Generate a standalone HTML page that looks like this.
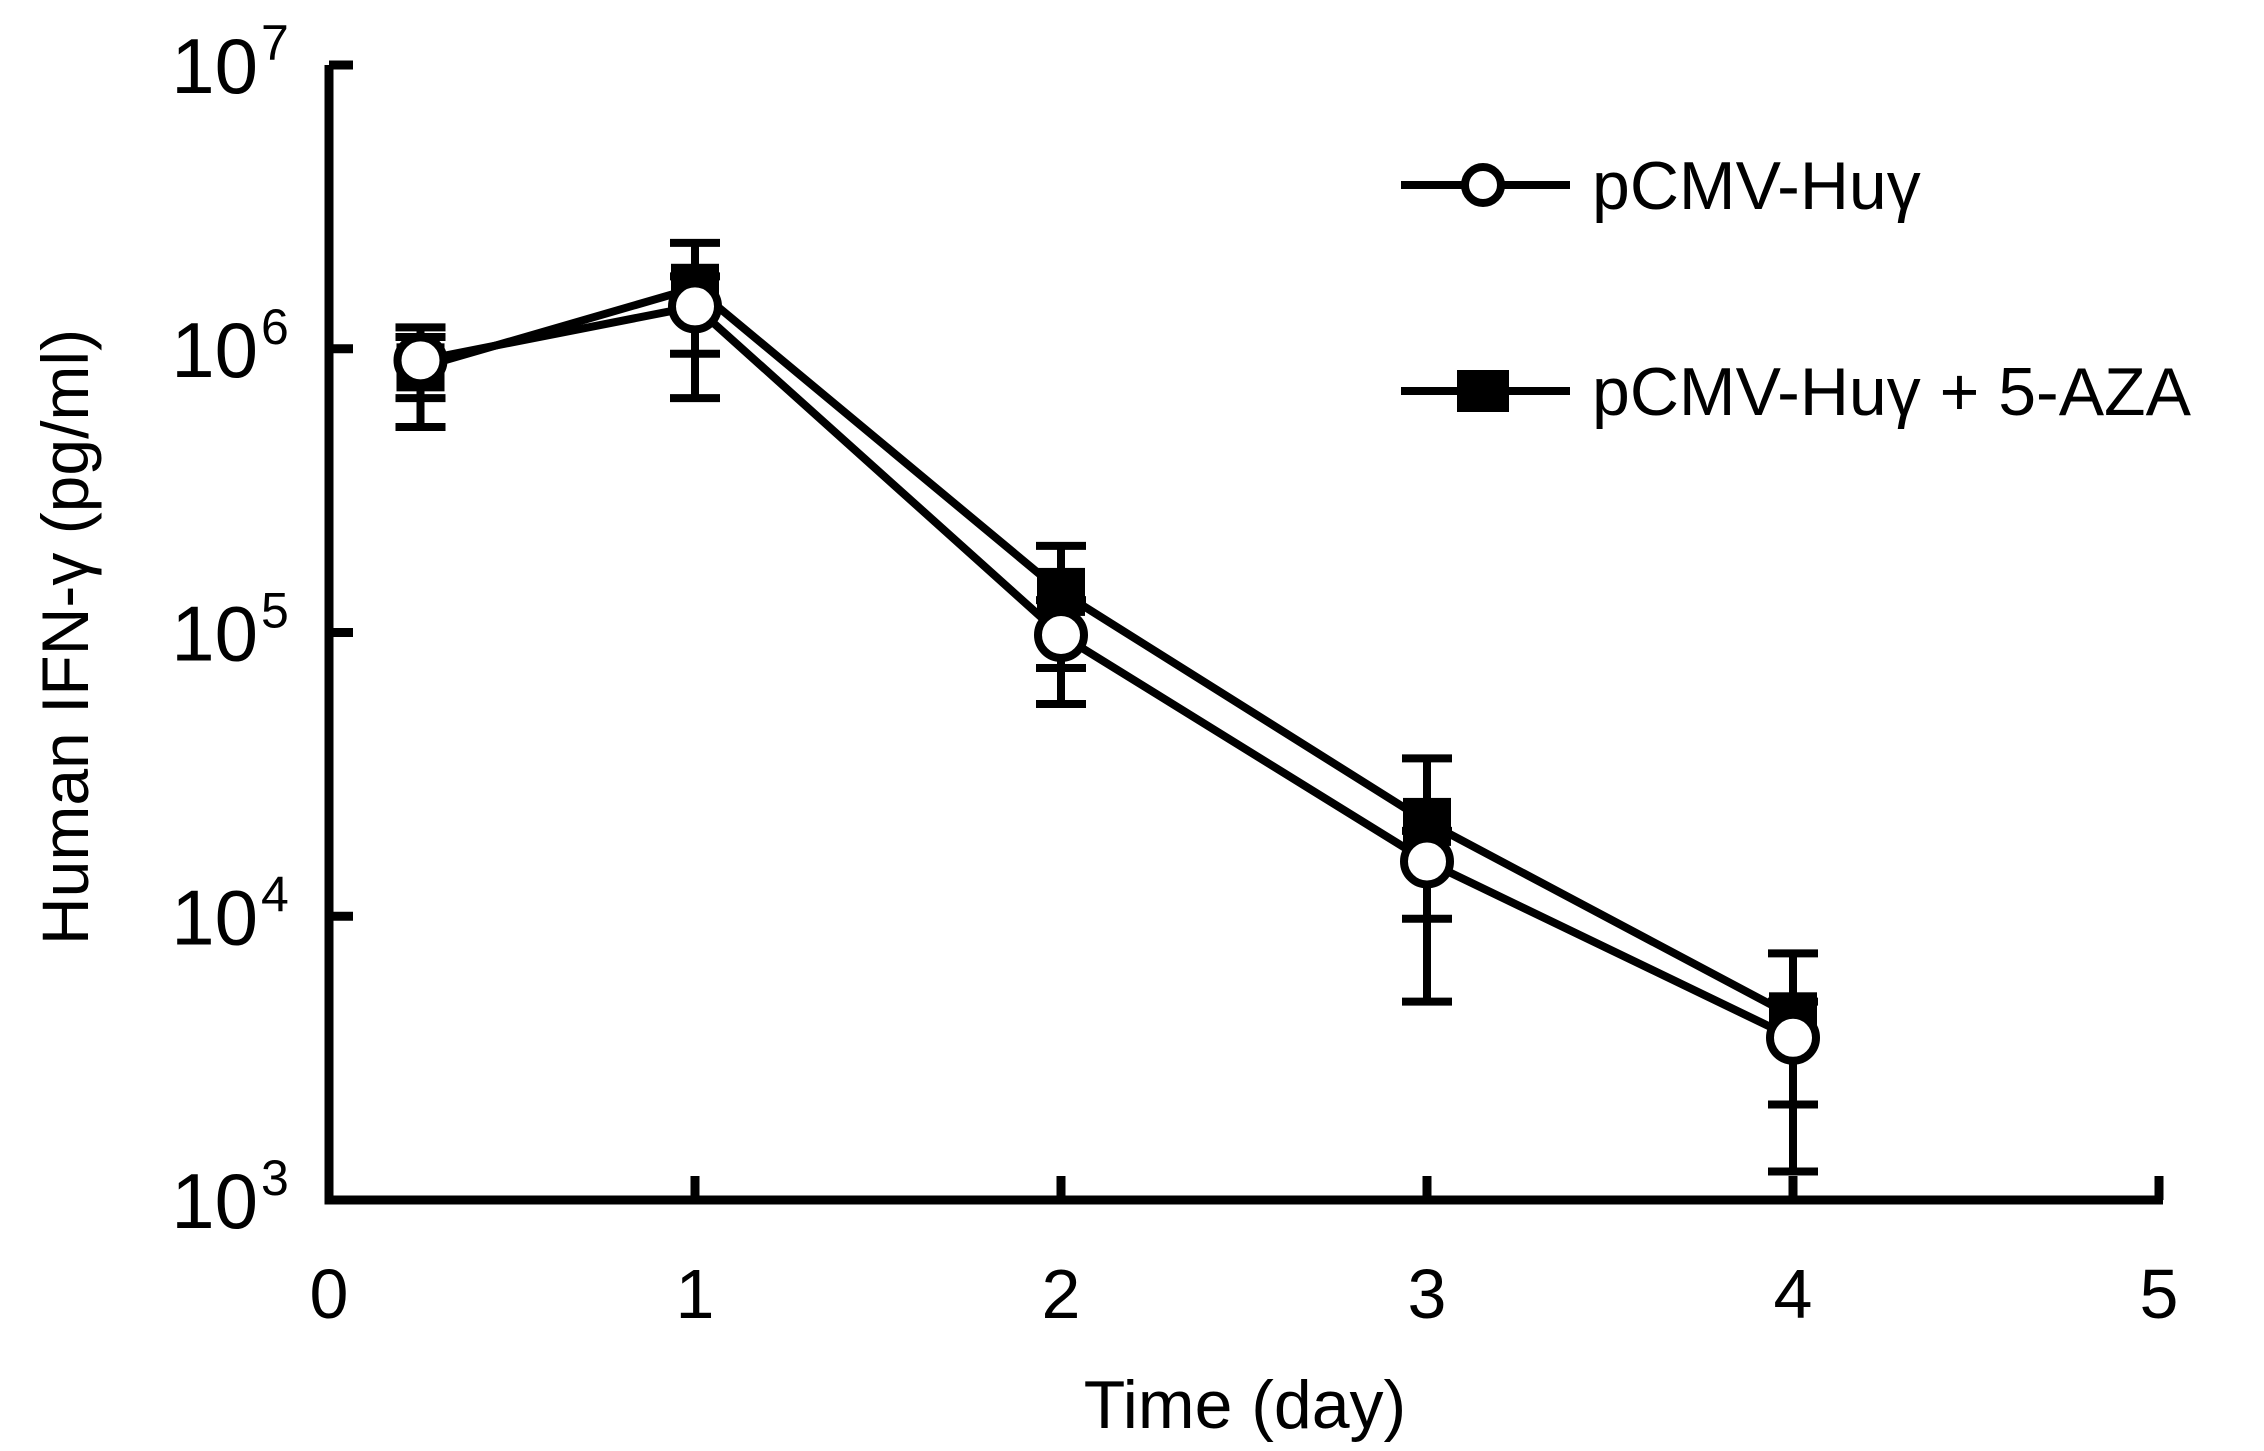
<!DOCTYPE html>
<html><head><meta charset="utf-8"><style>
html,body{margin:0;padding:0;background:#fff;}
svg text{font-family:"Liberation Sans",Arial,sans-serif;fill:#000;}
</style></head><body>
<svg id="chart" width="2264" height="1446" viewBox="0 0 2264 1446" xmlns="http://www.w3.org/2000/svg">
<g id="axes"></g>
<g id="series"></g>
<g id="legend"></g>
</svg>
<script>
const days = [0.25, 1, 2, 3, 4];
const circleValues = [0.91e6, 1.41e6, 0.98e5, 1.56e4, 3.73e3];
const circleUpper = [1.1e6, 1.8e6, 1.3e5, 2.0e4, 5.0e3];
const circleLower = [0.67e6, 0.96e6, 0.75e5, 0.98e4, 2.17e3];
const squareValues = [0.86e6, 1.64e6, 1.39e5, 2.15e4, 4.44e3];
const squareUpper = [1.19e6, 2.36e6, 2.02e5, 3.6e4, 7.4e3];
const squareLower = [0.53e6, 0.67e6, 0.56e5, 0.5e4, 1.26e3];
const xTicks = [0, 1, 2, 3, 4, 5];
const yTickExps = [3, 4, 5, 6, 7];
const seriesNames = ["pCMV-Hu\u03b3", "pCMV-Hu\u03b3 + 5-AZA"];

const NS = "http://www.w3.org/2000/svg";
const X0 = 329, X1 = 2159, Y3 = 1200, Y7 = 65;
function xs(d){ return X0 + (d - 0) / 5 * (X1 - X0); }
function ys(v){ return Y3 - (Math.log10(v) - 3) / 4 * (Y3 - Y7); }
function mk(tag, attrs, parent){
  const e = document.createElementNS(NS, tag);
  for (const k in attrs) e.setAttribute(k, attrs[k]);
  parent.appendChild(e);
  return e;
}
const axes = document.getElementById('axes');
const series = document.getElementById('series');
const legend = document.getElementById('legend');

let yl = mk('line', {x1: X0, y1: Y7, x2: X0, y2: Y3 + 4.5, stroke: '#000', 'stroke-width': 9}, axes);


let xl = mk('line', {x1: X0 - 4.5, y1: Y3, x2: X1 + 4, y2: Y3, stroke: '#000', 'stroke-width': 9}, axes);



yTickExps.forEach(function(ex){
  const y = ys(Math.pow(10, ex));
  const t = mk('line', {x1: X0, y1: y, x2: X0 + 24, y2: y, stroke: '#000', 'stroke-width': 9}, axes);
  
  
  const tx = mk('text', {x: 258, y: y + 28, 'font-size': 78, 'text-anchor': 'end'}, axes);
  tx.textContent = '10';
  
  
  const sp = mk('text', {x: 261, y: y - 5, 'font-size': 50}, axes);
  sp.textContent = String(ex);
  
  
});
xTicks.forEach(function(d){
  const x = xs(d);
  if (d > 0) {
    const t = mk('line', {x1: x, y1: Y3, x2: x, y2: Y3 - 24, stroke: '#000', 'stroke-width': 9}, axes);
    
    
  }
  const tx = mk('text', {x: x, y: 1318, 'font-size': 70, 'text-anchor': 'middle'}, axes);
  tx.textContent = String(d);
  
  
});
const xt = mk('text', {x: 1245, y: 1428, 'font-size': 68, 'text-anchor': 'middle'}, axes);
xt.textContent = 'Time (day)';


const yt = mk('text', {x: 0, y: 0, 'font-size': 66, 'text-anchor': 'middle', transform: 'translate(88,637) rotate(-90)'}, axes);
yt.textContent = 'Human IFN-\u03b3 (pg/ml)';



function errBars(vals, up, lo, name){
  days.forEach(function(d, i){
    const x = xs(d);
    const e = mk('path', {d: 'M' + x + ' ' + ys(up[i]) + 'V' + ys(lo[i]) +
      'M' + (x - 25) + ' ' + ys(up[i]) + 'H' + (x + 25) +
      'M' + (x - 25) + ' ' + ys(lo[i]) + 'H' + (x + 25),
      stroke: '#000', 'stroke-width': 8, fill: 'none'}, series);
    
    
  });
}
function linePath(vals){
  return days.map(function(d, i){ return (i ? 'L' : 'M') + xs(d) + ' ' + ys(vals[i]); }).join('');
}
errBars(squareValues, squareUpper, squareLower, 'aza');
errBars(circleValues, circleUpper, circleLower, 'control');
const sl = mk('path', {d: linePath(squareValues), stroke: '#000', 'stroke-width': 8, fill: 'none'}, series);


days.forEach(function(d, i){
  const s = mk('rect', {x: xs(d) - 24, y: ys(squareValues[i]) - 24, width: 48, height: 48, fill: '#000'}, series);
  
  
});
const cl = mk('path', {d: linePath(circleValues), stroke: '#000', 'stroke-width': 8, fill: 'none'}, series);


days.forEach(function(d, i){
  const c = mk('circle', {cx: xs(d), cy: ys(circleValues[i]), r: 23, fill: '#fff', stroke: '#000', 'stroke-width': 8}, series);
  
  
});

[185, 391].forEach(function(y, i){
  const l = mk('line', {x1: 1401, y1: y, x2: 1570, y2: y, stroke: '#000', 'stroke-width': 8}, legend);
  
  
  let m;
  if (i === 0) m = mk('circle', {cx: 1483, cy: y, r: 18, fill: '#fff', stroke: '#000', 'stroke-width': 8}, legend);
  else m = mk('rect', {x: 1457, y: y - 21, width: 52, height: 42, fill: '#000'}, legend);
  
  
  const t = mk('text', {x: 1592, y: y + 24, 'font-size': 68}, legend);
  t.textContent = seriesNames[i];
  
  
});
</script>
</body></html>
